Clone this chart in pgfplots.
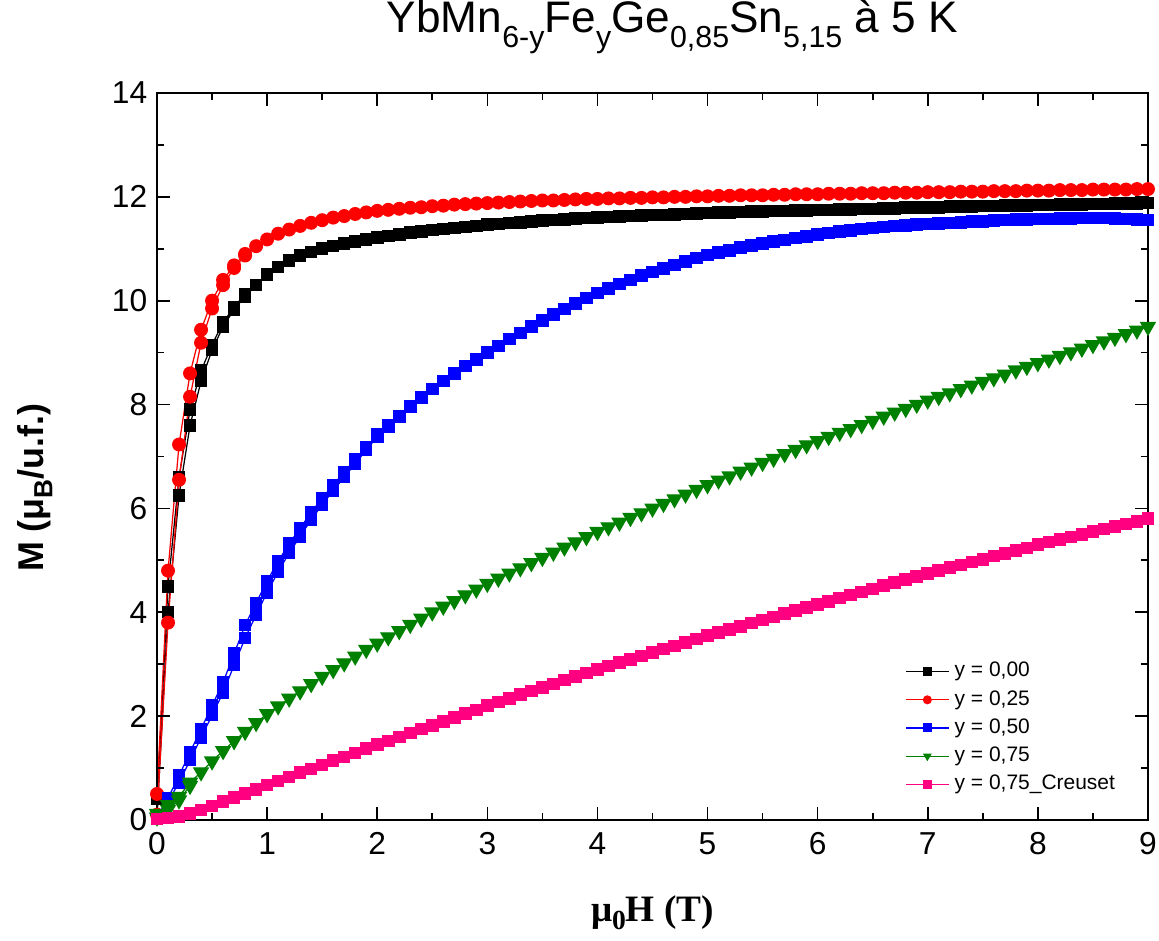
\documentclass[border=0pt]{standalone}
\usepackage{fontspec}
\setmainfont{Liberation Sans}
\newfontfamily\timesf{Liberation Serif}
\usepackage{pgfplots}
\pgfplotsset{compat=1.18}
\definecolor{cblack}{RGB}{0,0,0}
\definecolor{cred}{RGB}{255,0,0}
\definecolor{cblue}{RGB}{0,0,255}
\definecolor{cgreen}{RGB}{0,128,0}
\definecolor{cpink}{RGB}{255,0,128}
\newcommand\tsub[1]{\raisebox{-5.4pt}{\fontsize{11}{11}\selectfont #1}}
\begin{document}
\begin{tikzpicture}
\begin{axis}[
  scale only axis,
  width=359.1pt, height=263.4pt,
  xmin=0, xmax=9, ymin=0, ymax=14,
  xtick={0,1,...,9}, ytick={0,2,...,14},
  minor x tick num=1, minor y tick num=1,
  tick align=inside,
  major tick length=4.7pt, minor tick length=2.5pt,
  every tick/.style={black, line width=0.6pt},
  axis line style={line width=0.8pt},
  axis on top,
  /pgf/number format/assume math mode=true,
  ticklabel style={font=\fontsize{11.5}{12}\selectfont},
  xticklabel style={yshift=-1pt},
  title={YbMn\tsub{6-y}Fe\tsub{y}Ge\tsub{0,85}Sn\tsub{5,15} à 5 K},
  title style={font=\fontsize{16}{18}\selectfont, at={(axis description cs:0.52,1.068)}, anchor=center},
  xlabel={\timesf\bfseries μ\raisebox{-3pt}{\fontsize{10}{10}\selectfont 0}H (T)},
  xlabel style={font=\fontsize{13.5}{15}\selectfont, at={(axis description cs:0.5,-0.128)}, anchor=center},
  ylabel={\bfseries M (μ\raisebox{-3pt}{\fontsize{9.5}{10}\selectfont B}/u.f.)},
  ylabel style={font=\fontsize{13}{15}\selectfont, at={(axis description cs:-0.123,0.457)}, anchor=center},
  legend cell align=left,
  legend style={draw=none, fill=none, at={(axis description cs:0.752,0.229)}, anchor=north west,
    font=\fontsize{7.6}{8}\selectfont, row sep=-0.6pt, inner sep=1pt},
  legend image code/.code={\draw[mark repeat=2,mark phase=2] plot coordinates {(0cm,0cm) (0.27cm,0cm) (0.54cm,0cm)};},
  legend image post style={mark size=1.4pt},
]
\coordinate (ll) at (rel axis cs:0,0);
\coordinate (ur) at (rel axis cs:1,1);
% y = 0,00
\addplot[cblack, line width=0.45pt, mark=square*, mark size=2.05pt, mark options={solid}] coordinates {
(0.0,0.05)(0.1,4.0)(0.2,6.25)(0.3,7.6)(0.4,8.45)(0.5,9.05)(0.6,9.5)(0.7,9.83)(0.8,10.08)(0.9,10.3)
(1.0,10.5)(1.1,10.65)(1.2,10.77)(1.3,10.87)(1.4,10.94)(1.5,11.0)(1.6,11.05)(1.7,11.1)(1.8,11.14)(1.9,11.18)
(2.0,11.22)(2.1,11.25)(2.2,11.28)(2.3,11.31)(2.4,11.33)(2.5,11.36)(2.6,11.38)(2.7,11.40)(2.8,11.42)(2.9,11.44)
(3.0,11.47)(3.1,11.48)(3.2,11.50)(3.3,11.51)(3.4,11.53)(3.5,11.54)(3.6,11.55)(3.7,11.56)(3.8,11.58)(3.9,11.59)
(4.0,11.60)(4.1,11.61)(4.2,11.62)(4.3,11.63)(4.4,11.64)(4.5,11.65)(4.6,11.65)(4.7,11.66)(4.8,11.67)(4.9,11.68)
(5.0,11.69)(5.1,11.70)(5.2,11.70)(5.3,11.71)(5.4,11.72)(5.5,11.72)(5.6,11.73)(5.7,11.73)(5.8,11.74)(5.9,11.74)
(6.0,11.75)(6.1,11.75)(6.2,11.76)(6.3,11.76)(6.4,11.77)(6.5,11.77)(6.6,11.78)(6.7,11.78)(6.8,11.79)(6.9,11.79)
(7.0,11.80)(7.1,11.80)(7.2,11.81)(7.3,11.81)(7.4,11.81)(7.5,11.82)(7.6,11.82)(7.7,11.83)(7.8,11.83)(7.9,11.83)
(8.0,11.84)(8.1,11.84)(8.2,11.85)(8.3,11.85)(8.4,11.85)(8.5,11.86)(8.6,11.86)(8.7,11.87)(8.8,11.87)(8.9,11.87)
(9.0,11.88)};
\addlegendentry{y = 0,00}
\addplot[cblack, line width=0.45pt, mark=square*, mark size=2.05pt, forget plot] coordinates {
(0.8,10.12)(0.7,9.88)(0.6,9.58)(0.5,9.15)(0.4,8.65)(0.3,7.9)(0.2,6.6)(0.1,4.5)(0.0,0.4)};
% y = 0,25
\addplot[cred, line width=0.45pt, mark=*, mark size=2.3pt] coordinates {
(0.0,0.1)(0.1,3.8)(0.2,6.55)(0.3,8.15)(0.4,9.19)(0.5,9.85)(0.6,10.3)(0.7,10.63)(0.8,10.87)(0.9,11.05)
(1.0,11.18)(1.1,11.29)(1.2,11.37)(1.3,11.44)(1.4,11.50)(1.5,11.55)(1.6,11.60)(1.7,11.63)(1.8,11.67)(1.9,11.70)
(2.0,11.73)(2.1,11.75)(2.2,11.77)(2.3,11.79)(2.4,11.80)(2.5,11.82)(2.6,11.83)(2.7,11.85)(2.8,11.86)(2.9,11.87)
(3.0,11.88)(3.1,11.89)(3.2,11.90)(3.3,11.91)(3.4,11.92)(3.5,11.93)(3.6,11.93)(3.7,11.94)(3.8,11.95)(3.9,11.96)
(4.0,11.96)(4.1,11.97)(4.2,11.97)(4.3,11.98)(4.4,11.98)(4.5,11.99)(4.6,11.99)(4.7,12.00)(4.8,12.00)(4.9,12.01)
(5.0,12.01)(5.1,12.02)(5.2,12.02)(5.3,12.03)(5.4,12.03)(5.5,12.03)(5.6,12.04)(5.7,12.04)(5.8,12.05)(5.9,12.05)
(6.0,12.05)(6.1,12.06)(6.2,12.06)(6.3,12.06)(6.4,12.07)(6.5,12.07)(6.6,12.07)(6.7,12.08)(6.8,12.08)(6.9,12.08)
(7.0,12.09)(7.1,12.09)(7.2,12.09)(7.3,12.10)(7.4,12.10)(7.5,12.10)(7.6,12.11)(7.7,12.11)(7.8,12.11)(7.9,12.12)
(8.0,12.12)(8.1,12.12)(8.2,12.13)(8.3,12.13)(8.4,12.13)(8.5,12.14)(8.6,12.14)(8.7,12.14)(8.8,12.14)(8.9,12.15)
(9.0,12.15)};
\addlegendentry{y = 0,25}
\addplot[cred, line width=0.45pt, mark=*, mark size=2.3pt, forget plot] coordinates {
(0.8,10.9)(0.7,10.68)(0.6,10.4)(0.5,10.0)(0.4,9.44)(0.3,8.6)(0.2,7.23)(0.1,4.8)(0.0,0.5)};
% y = 0,50
\addplot[cblue, line width=0.45pt, mark=square*, mark size=2.05pt] coordinates {
(0.0,0.05)(0.1,0.42)(0.2,0.85)(0.3,1.30)(0.4,1.75)(0.5,2.20)(0.6,2.65)(0.7,3.20)(0.8,3.75)(0.9,4.18)
(1.0,4.60)(1.1,4.98)(1.2,5.32)(1.3,5.62)(1.4,5.92)(1.5,6.20)(1.6,6.45)(1.7,6.70)(1.8,6.94)(1.9,7.18)
(2.0,7.42)(2.1,7.60)(2.2,7.78)(2.3,7.96)(2.4,8.13)(2.5,8.30)(2.6,8.45)(2.7,8.60)(2.8,8.74)(2.9,8.87)
(3.0,9.00)(3.1,9.13)(3.2,9.26)(3.3,9.38)(3.4,9.50)(3.5,9.62)(3.6,9.73)(3.7,9.84)(3.8,9.95)(3.9,10.05)
(4.0,10.15)(4.1,10.24)(4.2,10.32)(4.3,10.40)(4.4,10.48)(4.5,10.55)(4.6,10.62)(4.7,10.69)(4.8,10.76)(4.9,10.82)
(5.0,10.88)(5.1,10.93)(5.2,10.97)(5.3,11.02)(5.4,11.06)(5.5,11.10)(5.6,11.14)(5.7,11.17)(5.8,11.21)(5.9,11.24)
(6.0,11.27)(6.1,11.30)(6.2,11.33)(6.3,11.35)(6.4,11.38)(6.5,11.40)(6.6,11.42)(6.7,11.44)(6.8,11.45)(6.9,11.47)
(7.0,11.48)(7.1,11.49)(7.2,11.50)(7.3,11.51)(7.4,11.52)(7.5,11.53)(7.6,11.54)(7.7,11.55)(7.8,11.56)(7.9,11.56)
(8.0,11.57)(8.1,11.57)(8.2,11.58)(8.3,11.58)(8.4,11.59)(8.5,11.59)(8.6,11.59)(8.7,11.58)(8.8,11.57)(8.9,11.56)
(9.0,11.55)};
\addlegendentry{y = 0,50}
\addplot[cblue, line width=0.45pt, mark=square*, mark size=2.05pt, forget plot] coordinates {
(2.2,7.76)(2.1,7.57)(2.0,7.38)(1.9,7.12)(1.8,6.86)(1.7,6.60)(1.6,6.34)(1.5,6.07)(1.4,5.78)(1.3,5.46)
(1.2,5.14)(1.1,4.78)(1.0,4.38)(0.9,3.95)(0.8,3.50)(0.7,2.98)(0.6,2.45)(0.5,2.02)(0.4,1.58)(0.3,1.15)
(0.2,0.72)(0.1,0.35)(0.0,0.05)};
% y = 0,75
\addplot[cgreen, line width=0.45pt, mark=triangle*, mark size=3.0pt, mark options={rotate=180}] coordinates {
(0.0,0.12)(0.1,0.29)(0.2,0.45)(0.3,0.72)(0.4,0.92)(0.5,1.13)(0.6,1.33)(0.7,1.52)(0.8,1.70)(0.9,1.87)
(1.0,2.04)(1.1,2.19)(1.2,2.34)(1.3,2.48)(1.4,2.62)(1.5,2.76)(1.6,2.89)(1.7,3.02)(1.8,3.15)(1.9,3.28)
(2.0,3.40)(2.1,3.52)(2.2,3.64)(2.3,3.76)(2.4,3.88)(2.5,4.00)(2.6,4.11)(2.7,4.22)(2.8,4.33)(2.9,4.44)
(3.0,4.55)(3.1,4.65)(3.2,4.75)(3.3,4.85)(3.4,4.95)(3.5,5.05)(3.6,5.15)(3.7,5.25)(3.8,5.35)(3.9,5.45)
(4.0,5.55)(4.1,5.64)(4.2,5.73)(4.3,5.82)(4.4,5.91)(4.5,6.00)(4.6,6.09)(4.7,6.18)(4.8,6.27)(4.9,6.36)
(5.0,6.45)(5.1,6.54)(5.2,6.62)(5.3,6.71)(5.4,6.79)(5.5,6.88)(5.6,6.96)(5.7,7.05)(5.8,7.13)(5.9,7.22)
(6.0,7.30)(6.1,7.38)(6.2,7.46)(6.3,7.53)(6.4,7.61)(6.5,7.69)(6.6,7.77)(6.7,7.85)(6.8,7.92)(6.9,8.00)
(7.0,8.08)(7.1,8.15)(7.2,8.22)(7.3,8.30)(7.4,8.37)(7.5,8.44)(7.6,8.51)(7.7,8.58)(7.8,8.66)(7.9,8.73)
(8.0,8.80)(8.1,8.87)(8.2,8.94)(8.3,9.01)(8.4,9.08)(8.5,9.15)(8.6,9.22)(8.7,9.29)(8.8,9.36)(8.9,9.43)
(9.0,9.50)};
\addlegendentry{y = 0,75}
\addplot[cgreen, line width=0.45pt, mark=triangle*, mark size=3.0pt, mark options={rotate=180}, forget plot] coordinates {
(0.3,0.66)(0.2,0.38)(0.1,0.20)(0.0,0.05)};
% y = 0,75 Creuset
\addplot[cpink, line width=0.45pt, mark=square*, mark size=2.05pt] coordinates {
(0.0,0.02)(0.1,0.04)(0.2,0.07)(0.3,0.12)(0.4,0.19)(0.5,0.27)(0.6,0.35)(0.7,0.43)(0.8,0.51)(0.9,0.59)
(1.0,0.67)(1.1,0.75)(1.2,0.83)(1.3,0.91)(1.4,0.98)(1.5,1.06)(1.6,1.14)(1.7,1.21)(1.8,1.29)(1.9,1.37)
(2.0,1.45)(2.1,1.52)(2.2,1.60)(2.3,1.67)(2.4,1.75)(2.5,1.82)(2.6,1.90)(2.7,1.97)(2.8,2.05)(2.9,2.12)
(3.0,2.20)(3.1,2.27)(3.2,2.34)(3.3,2.41)(3.4,2.48)(3.5,2.55)(3.6,2.62)(3.7,2.69)(3.8,2.76)(3.9,2.83)
(4.0,2.90)(4.1,2.96)(4.2,3.03)(4.3,3.09)(4.4,3.16)(4.5,3.22)(4.6,3.29)(4.7,3.35)(4.8,3.42)(4.9,3.48)
(5.0,3.55)(5.1,3.61)(5.2,3.67)(5.3,3.73)(5.4,3.79)(5.5,3.85)(5.6,3.91)(5.7,3.97)(5.8,4.03)(5.9,4.09)
(6.0,4.15)(6.1,4.21)(6.2,4.27)(6.3,4.33)(6.4,4.39)(6.5,4.45)(6.6,4.51)(6.7,4.57)(6.8,4.63)(6.9,4.69)
(7.0,4.75)(7.1,4.80)(7.2,4.86)(7.3,4.91)(7.4,4.97)(7.5,5.02)(7.6,5.08)(7.7,5.13)(7.8,5.19)(7.9,5.24)
(8.0,5.30)(8.1,5.35)(8.2,5.40)(8.3,5.45)(8.4,5.50)(8.5,5.55)(8.6,5.60)(8.7,5.65)(8.8,5.70)(8.9,5.75)
(9.0,5.80)};
\addlegendentry{y = 0,75\_Creuset}
\end{axis}
\pgfresetboundingbox
\path[use as bounding box] ([shift={(-56.9pt,-43.8pt)}]ll) rectangle ([shift={(4pt,33.7pt)}]ur);
\end{tikzpicture}
\end{document}
